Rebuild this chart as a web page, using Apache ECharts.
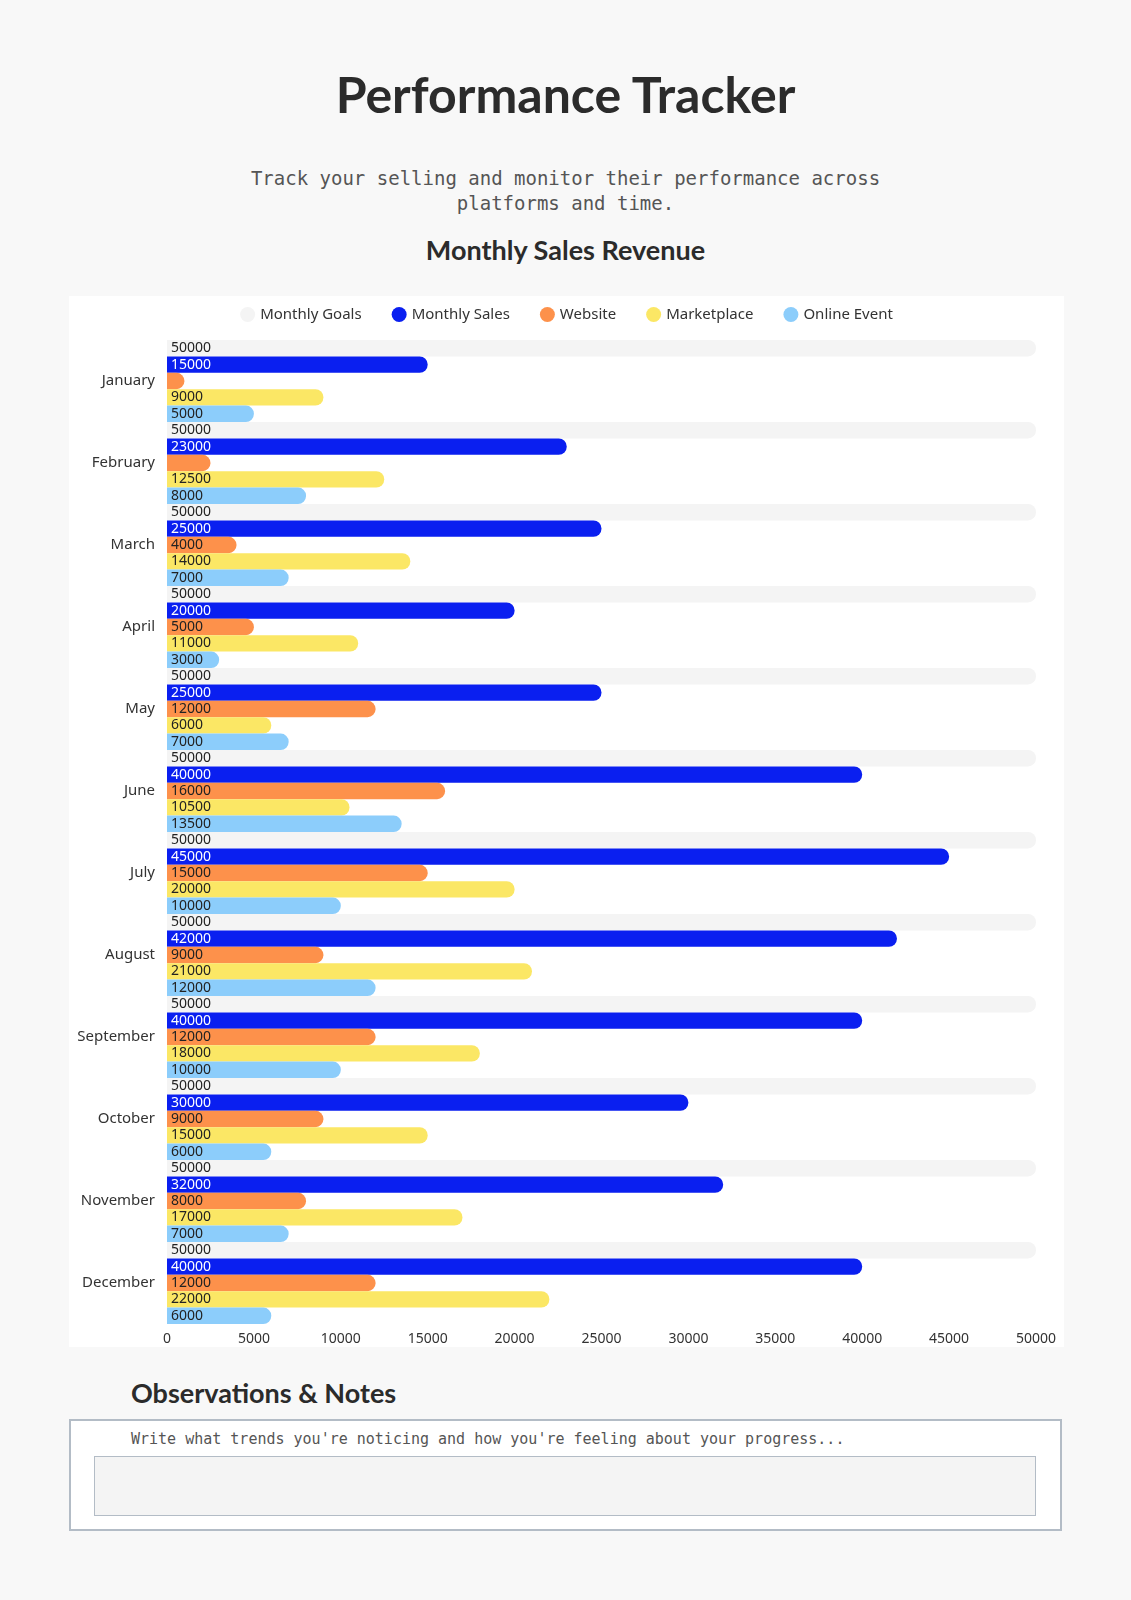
<!DOCTYPE html>
<html>
<head>
<meta charset="utf-8">
<script src="https://cdn.jsdelivr.net/npm/echarts@6/dist/echarts.min.js"></script>
<style>
  body { margin: 0; background: #f8f8f8; width: 1131px; height: 1600px; position: relative; font-family: Lato, "Noto Sans", sans-serif; color: #2b2b2b; }
  h1 { position: absolute; top: 64px; left: 0; width: 1131px; text-align: center; margin: 0; font-size: 50px; font-weight: 700; }
  .sub { position: absolute; top: 166px; left: 0; width: 1131px; text-align: center; font-family: "DejaVu Sans Mono", monospace; font-size: 19px; line-height: 25px; color: #555; }
  h2 { position: absolute; top: 233px; left: 0; width: 1131px; text-align: center; margin: 0; font-size: 27px; font-weight: 700; }
  #main { position: absolute; left: 69px; top: 296px; width: 995px; height: 1051px; background: #fff; }
  h3 { position: absolute; top: 1376px; left: 131px; margin: 0; font-size: 27px; font-weight: 700; }
  .notes { position: absolute; left: 69px; top: 1419px; width: 989px; height: 108px; border: 2px solid #b3bcc6; background: #fff; }
  .notes p { margin: 0; position: absolute; left: 60px; top: 9px; font-family: "DejaVu Sans Mono", monospace; font-size: 15px; color: #555; }
  .notes div { position: absolute; left: 23px; top: 35px; width: 940px; height: 58px; border: 1px solid #b3bcc6; background: #f4f4f4; }
</style>
</head>
<body>
<h1>Performance Tracker</h1>
<div class="sub">Track your selling and monitor their performance across<br>platforms and time.</div>
<h2>Monthly Sales Revenue</h2>
<div id="main"></div>
<h3>Observations &amp; Notes</h3>
<div class="notes"><p>Write what trends you're noticing and how you're feeling about your progress...</p><div></div></div>
<script>
var months = ['January','February','March','April','May','June','July','August','September','October','November','December'];
var goals = [50000,50000,50000,50000,50000,50000,50000,50000,50000,50000,50000,50000];
var sales = [15000,23000,25000,20000,25000,40000,45000,42000,40000,30000,32000,40000];
var website = [1000,2500,4000,5000,12000,16000,15000,9000,12000,9000,8000,12000];
var marketplace = [9000,12500,14000,11000,6000,10500,20000,21000,18000,15000,17000,22000];
var online = [5000,8000,7000,3000,7000,13500,10000,12000,10000,6000,7000,6000];

var myChart = echarts.init(document.getElementById('main'));
function mk(name, data, color, labelColor) {
    return {
        name: name, type: 'bar', data: data, barGap: '0%', barCategoryGap: '0%',
        itemStyle: { color: color, borderRadius: [0, 8, 8, 0] },
        label: {
            show: true, position: 'insideLeft', offset: [-1, 0], color: labelColor,
            fontSize: 14, fontFamily: 'Noto Sans',
            formatter: function (p) { return p.value >= 3000 ? p.value : ''; }
        }
    };
}
myChart.setOption({
    legend: {
        top: 6, itemWidth: 15, itemHeight: 15, icon: 'circle', itemGap: 30,
        textStyle: { color: '#333', fontSize: 15, fontFamily: 'Noto Sans' }
    },
    grid: { left: 98, right: 28, top: 44, bottom: 23 },
    xAxis: {
        type: 'value', min: 0, max: 50000, interval: 5000,
        splitLine: { show: false }, axisLine: { show: false },
        axisLabel: { color: '#333', fontSize: 14, fontFamily: 'Noto Sans', formatter: function (v) { return String(v); } }
    },
    yAxis: {
        type: 'category', data: months, inverse: true,
        axisLine: { show: false }, axisTick: { show: false },
        axisLabel: { color: '#333', fontSize: 15, fontFamily: 'Noto Sans', margin: 12 }
    },
    series: [
        mk('Monthly Goals', goals, '#f4f4f4', '#222'),
        mk('Monthly Sales', sales, '#0a1ff0', '#fff'),
        mk('Website', website, '#fd914b', '#222'),
        mk('Marketplace', marketplace, '#fbe765', '#222'),
        mk('Online Event', online, '#8ccdfb', '#222')
    ]
});
</script>
</body>
</html>
